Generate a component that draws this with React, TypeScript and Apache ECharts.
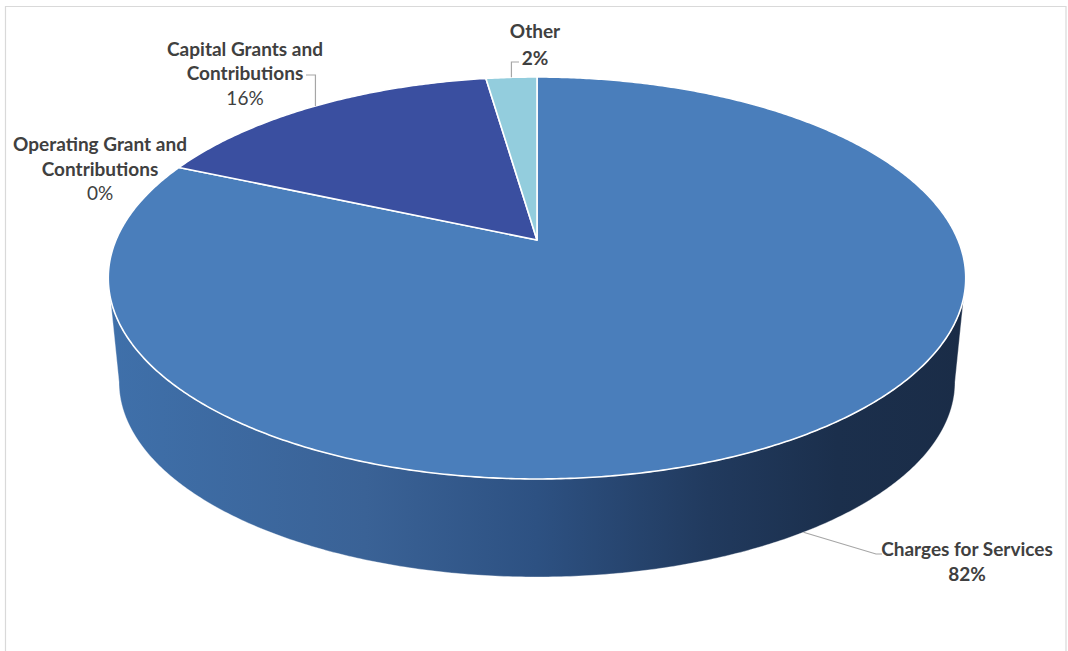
import React, { useEffect, useRef } from 'react';
import * as echarts from 'echarts';

// ---- data ----
const categories = ['Charges for Services', 'Operating Grant and Contributions', 'Capital Grants and Contributions', 'Other'];
const values = [81.6, 0, 16.1, 2.3];
const labelNameLines = [['Charges for Services'], ['Operating Grant and', 'Contributions'], ['Capital Grants and', 'Contributions'], ['Other']];

// ---- styles / layout ----
const sliceColors = ['#4A7EBB', '#4F81BD', '#3A4FA0', '#93CDDD'];
const GEO = { cx: 537, cy: 240, A: 421, B: 193.8, k: 0.189, botScaleX: 0.975, botScaleY: 0.97, botNearY: 577 };
const TEXT_COLOR = '#404040';
const LEADER_COLOR = '#A6A6A6';
const FONT = 'Lato';
const FONT_SIZE = 19;
const LABEL_LAYOUT = [
  { x: 967, ys: [548], pctY: 573, boldPct: true, leader: { kind: 'bottom', elbow: [876, 554], end: [882, 554] } },
  { x: 100, ys: [143, 168], pctY: 192, boldPct: false, leader: null },
  { x: 245, ys: [48, 72], pctY: 97, boldPct: false, leader: { kind: 'top', start: [306, 75] } },
  { x: 535, ys: [30], pctY: 57, boldPct: true, leader: { kind: 'top', start: [519, 62] } },
];

const total = values.reduce((a, b) => a + b, 0);
const startAngles: number[] = [];
{
  let acc = 0;
  values.forEach((v) => {
    startAngles.push((acc / total) * Math.PI * 2);
    acc += v;
  });
}

function proj(theta: number, bottom: boolean): number[] {
  const { cx, cy, A, B, k, botScaleX, botScaleY, botNearY } = GEO;
  const X = Math.sin(theta);
  const Z = -Math.cos(theta);
  const w = 1 - k * Z;
  if (!bottom) return [cx + (A * X) / w, cy + (B * Z) / w];
  const A2 = A * botScaleX;
  const B2 = B * botScaleY;
  const yc2 = botNearY - B2 / (1 - k);
  return [cx + (A2 * X) / w, yc2 + (B2 * Z) / w];
}

function arc(t0: number, t1: number, bottom: boolean): number[][] {
  const pts: number[][] = [];
  const n = Math.max(2, Math.ceil(Math.abs(t1 - t0) / (Math.PI / 360)));
  for (let i = 0; i <= n; i++) pts.push(proj(t0 + ((t1 - t0) * i) / n, bottom));
  return pts;
}

const tRight = Math.acos(-GEO.k);
const tLeft = Math.PI * 2 - tRight;

function renderItem(params: any, api: any) {
  const i = params.dataIndex;
  const v = api.value(0);
  const t0 = startAngles[i];
  const t1 = t0 + (v / total) * Math.PI * 2;
  const children: any[] = [];

  // side wall (front-facing part)
  const s = Math.max(t0, tRight);
  const e = Math.min(t1, tLeft);
  if (s < e) {
    const pts = arc(s, e, false).concat(arc(s, e, true).reverse());
    children.push({
      type: 'polygon',
      z2: 1,
      shape: { points: pts },
      style: {
        fill: {
          type: 'linear', x: proj(tLeft, false)[0], y: 0, x2: proj(tRight, false)[0], y2: 0, global: true,
          colorStops: [
            { offset: 0, color: '#3F70AA' },
            { offset: 0.3, color: '#3A6296' },
            { offset: 0.5, color: '#2D5182' },
            { offset: 0.7, color: '#213A5E' },
            { offset: 0.85, color: '#1B2F4C' },
            { offset: 1, color: '#1A2C47' },
          ],
        },
        stroke: 'rgba(255,255,255,0.6)',
        lineWidth: 0.6,
      },
    });
  }

  // top face
  if (t1 > t0) {
    const pts = [[GEO.cx, GEO.cy]].concat(arc(t0, t1, false));
    children.push({
      type: 'polygon',
      z2: 10,
      shape: { points: pts },
      style: { fill: sliceColors[i], stroke: '#FFFFFF', lineWidth: 1.6, lineJoin: 'round' },
    });
  }

  // label
  const L = LABEL_LAYOUT[i];
  const mid = (t0 + t1) / 2;
  labelNameLines[i].forEach((line, j) => {
    children.push({
      type: 'text', z2: 30,
      style: { text: line, x: L.x, y: L.ys[j], fill: TEXT_COLOR, fontFamily: FONT, fontSize: FONT_SIZE, fontWeight: 'bold', align: 'center', verticalAlign: 'middle' },
    });
  });
  const pct = Math.round((v / total) * 100) + '%';
  children.push({
    type: 'text', z2: 30,
    style: { text: pct, x: L.x, y: L.pctY, fill: TEXT_COLOR, fontFamily: FONT, fontSize: FONT_SIZE, fontWeight: L.boldPct ? 'bold' : 'normal', align: 'center', verticalAlign: 'middle' },
  });
  if (L.leader) {
    let pts: number[][];
    if (L.leader.kind === 'bottom') {
      const p = proj(mid, true);
      pts = [p, L.leader.elbow as number[], L.leader.end as number[]];
    } else {
      const p = proj(mid, false);
      const st = L.leader.start as number[];
      pts = [st, [p[0], st[1]], p];
    }
    children.push({
      type: 'polyline', z2: 20,
      shape: { points: pts },
      style: { fill: 'none', stroke: LEADER_COLOR, lineWidth: 1.2 },
    });
  }

  return { type: 'group', children };
}

export default function App() {
  const ref = useRef<HTMLDivElement>(null);
  useEffect(() => {
    if (!ref.current) return;
    const chart = echarts.init(ref.current, null, { renderer: 'svg' });
    chart.setOption({
      animation: false,
      backgroundColor: '#FFFFFF',
      graphic: [
        {
          type: 'rect', z: -1,
          shape: { x: 5.5, y: 6.5, width: 1060.5, height: 700 },
          style: { fill: 'none', stroke: '#D9D9D9', lineWidth: 1.2 },
        },
      ],
      series: [
        {
          type: 'custom',
          coordinateSystem: 'none',
          renderItem,
          data: values.map((v, i) => ({ name: categories[i], value: v })),
        },
      ],
    });
    return () => chart.dispose();
  }, []);
  return <div ref={ref} style={{ position: 'fixed', left: 0, top: 0, width: 1068, height: 651 }} />;
}
